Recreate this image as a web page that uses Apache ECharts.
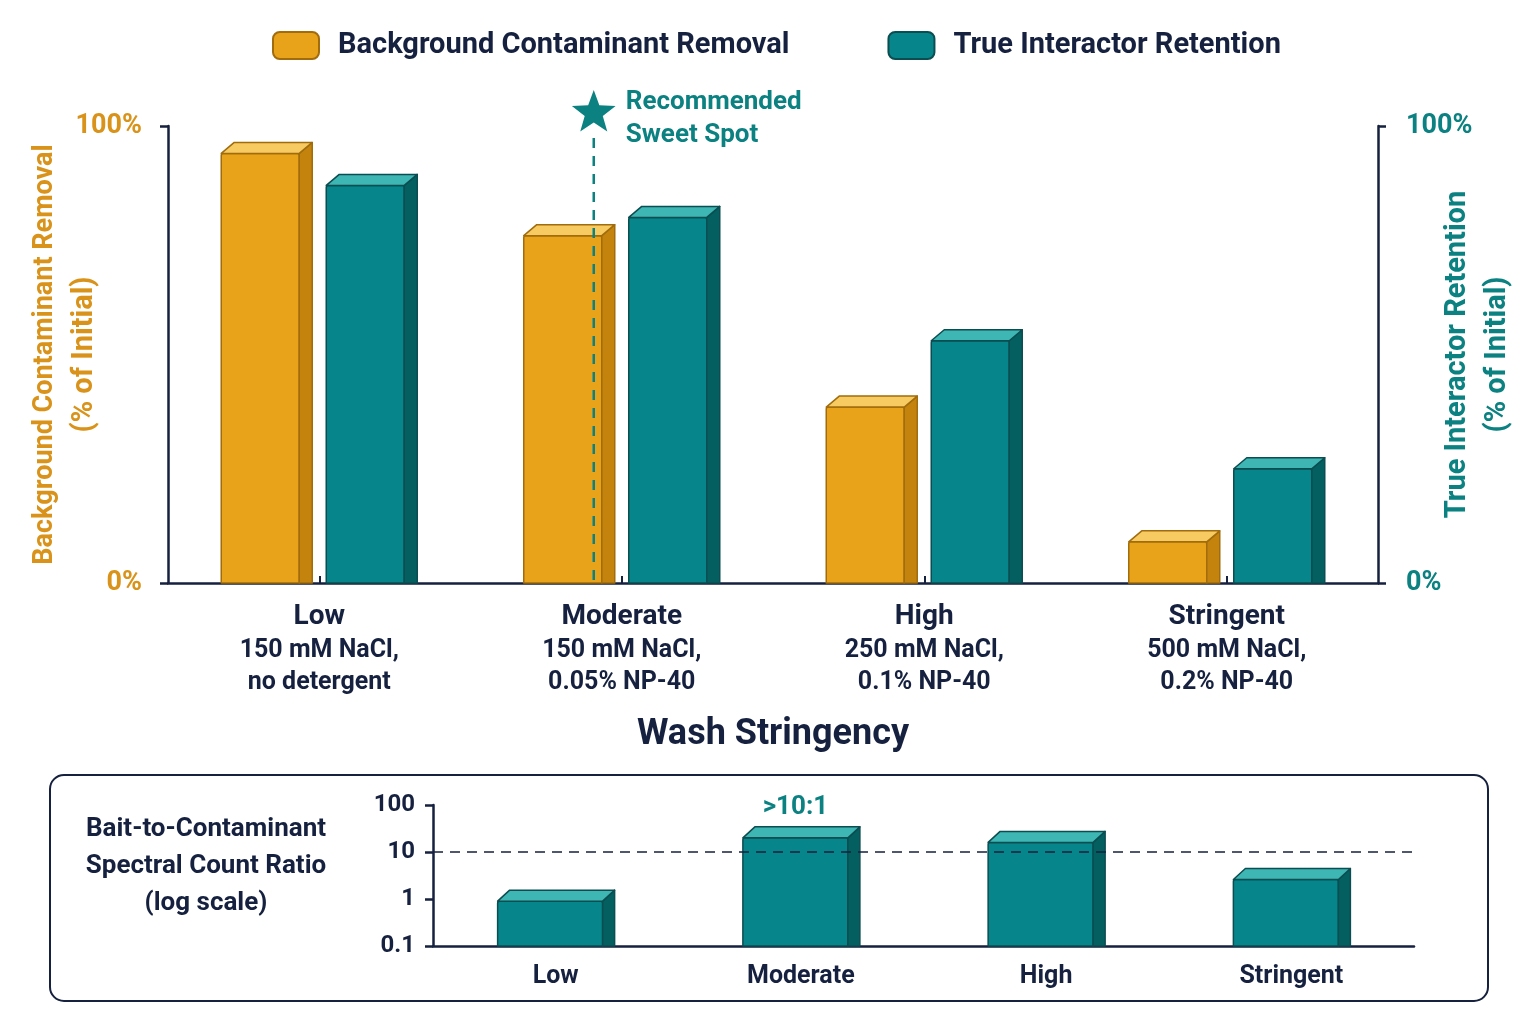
<!DOCTYPE html>
<html>
<head>
<meta charset="utf-8">
<script src="https://cdn.jsdelivr.net/npm/echarts@6/dist/echarts.min.js"></script>
<style>
  html, body { margin: 0; padding: 0; background: #fff; }
  #main { width: 1536px; height: 1024px; }
</style>
</head>
<body>
<div id="main"></div>
<script>
// wash levels and their buffer conditions
const washLevels = ['Low', 'Moderate', 'High', 'Stringent'];
const washConditions = [
  ['150 mM NaCl,', 'no detergent'],
  ['150 mM NaCl,', '0.05% NP-40'],
  ['250 mM NaCl,', '0.1% NP-40'],
  ['500 mM NaCl,', '0.2% NP-40']
];
// % of initial
const contaminantRemoval = [94, 76, 38.5, 9];
const interactorRetention = [87, 80, 53, 25];
// bait-to-contaminant spectral count ratio (log scale)
const spectralRatio = [0.9, 20, 16, 2.6];
const ratioLabels = ['', '>10:1', '', ''];
const ratioThreshold = 10;
const sweetSpot = 'Moderate';

const NAVY = '#15213f';
const ORANGE = '#d9931a';
const TEAL = '#0b8181';
const FONT = 'Roboto, "Noto Sans", sans-serif';

const orangeFaces = { front: '#e8a31a', top: '#f8cb62', side: '#c4830c', line: '#a06c0c' };
const tealFaces = { front: '#06868a', top: '#3db6b4', side: '#035f60', line: '#0b4d50' };

// 3D-looking bar: front face + top + right side
function bar3d(offset, faceW, dx, dy, baseVal, faces, labels) {
  return function (params, api) {
    const idx = api.value(0);
    const top = api.coord([idx, api.value(1)]);
    const base = api.coord([idx, baseVal]);
    const x0 = top[0] + offset;
    const ty = top[1];
    const by = base[1];
    const st = { stroke: faces.line, lineWidth: 1.5, lineJoin: 'round' };
    const children = [
      {
        type: 'rect',
        shape: { x: x0, y: ty, width: faceW, height: by - ty, r: [2, 2, 0, 0] },
        style: Object.assign({ fill: faces.front }, st)
      },
      {
        type: 'polygon',
        shape: { points: [[x0 + faceW, ty], [x0 + faceW + dx, ty - dy], [x0 + faceW + dx, by], [x0 + faceW, by]] },
        style: Object.assign({ fill: faces.side }, st)
      },
      {
        type: 'polygon',
        shape: { points: [[x0, ty], [x0 + dx, ty - dy], [x0 + faceW + dx, ty - dy], [x0 + faceW, ty]] },
        style: Object.assign({ fill: faces.top }, st)
      }
    ];
    if (labels && labels[params.dataIndex]) {
      children.push({
        type: 'text',
        style: {
          x: x0 + faceW / 2, y: ty - dy - 6,
          text: labels[params.dataIndex],
          fill: TEAL, font: 'bold 26px ' + FONT,
          textAlign: 'center', textVerticalAlign: 'bottom'
        }
      });
    }
    return { type: 'group', children: children };
  };
}

// five-pointed star outline around a centre
function starPoints(cx, cy, outer, inner) {
  const pts = [];
  for (let k = 0; k < 10; k++) {
    const r = k % 2 === 0 ? outer : inner;
    const a = -Math.PI / 2 + k * Math.PI / 5;
    pts.push([cx + r * Math.cos(a), cy + r * Math.sin(a)]);
  }
  return pts;
}

const chart = echarts.init(document.getElementById('main'));

chart.setOption({
  backgroundColor: '#ffffff',
  animation: false,
  textStyle: { fontFamily: FONT },
  legend: {
    top: 26,
    left: 267,
    itemWidth: 46,
    itemHeight: 27,
    itemGap: 98,
    icon: 'roundRect',
    textStyle: { color: NAVY, fontSize: 29, fontWeight: 'bold', padding: [0, 0, 0, 14] },
    data: ['Background Contaminant Removal', 'True Interactor Retention']
  },
  grid: [
    { left: 168, top: 126, width: 1210, height: 457, outerBoundsMode: 'none' },
    { left: 433, top: 805, width: 981, height: 141, outerBoundsMode: 'none' }
  ],
  xAxis: [
    {
      type: 'category', gridIndex: 0, data: washLevels,
      axisLine: { lineStyle: { color: NAVY, width: 2.5 } },
      axisTick: { show: true, inside: true, alignWithLabel: true, length: 7, lineStyle: { color: NAVY, width: 2 } },
      axisLabel: {
        margin: 16,
        formatter: function (v, i) {
          return '{a|' + v + '}\n{b|' + washConditions[i][0] + '}\n{b|' + washConditions[i][1] + '}';
        },
        rich: {
          a: { fontSize: 28, fontWeight: 'bold', color: NAVY, lineHeight: 36, fontFamily: FONT },
          b: { fontSize: 25, fontWeight: 'bold', color: NAVY, lineHeight: 32, fontFamily: FONT }
        }
      },
      name: 'Wash Stringency',
      nameLocation: 'middle',
      nameGap: 134,
      nameMoveOverlap: false,
      nameTextStyle: { fontSize: 36, fontWeight: 'bold', color: NAVY, fontFamily: FONT }
    },
    {
      type: 'category', gridIndex: 1, data: washLevels,
      axisLine: { lineStyle: { color: NAVY, width: 2.5 } },
      axisTick: { show: false },
      axisLabel: { margin: 18, fontSize: 25, fontWeight: 'bold', color: NAVY }
    }
  ],
  yAxis: [
    {
      type: 'value', gridIndex: 0, position: 'left', min: 0, max: 100, interval: 100,
      axisLine: { show: true, lineStyle: { color: NAVY, width: 2.5 } },
      axisTick: { show: true, length: 8, lineStyle: { color: NAVY, width: 2.5 } },
      axisLabel: { formatter: '{value}%', color: ORANGE, fontSize: 27, fontWeight: 'bold', margin: 26 },
      splitLine: { show: false },
      name: '{a|Background Contaminant Removal}\n{b|(% of Initial)}',
      nameLocation: 'middle',
      nameGap: 63,
      nameMoveOverlap: false,
      nameTextStyle: {
        color: ORANGE, fontWeight: 'bold', lineHeight: 40, fontFamily: FONT,
        rich: {
          a: { fontSize: 27, fontWeight: 'bold', color: ORANGE, lineHeight: 40, fontFamily: FONT },
          b: { fontSize: 29, fontWeight: 'bold', color: ORANGE, lineHeight: 40, fontFamily: FONT }
        }
      }
    },
    {
      type: 'value', gridIndex: 0, position: 'right', min: 0, max: 100, interval: 100,
      axisLine: { show: true, lineStyle: { color: NAVY, width: 2.5 } },
      axisTick: { show: true, length: 8, lineStyle: { color: NAVY, width: 2.5 } },
      axisLabel: { formatter: '{value}%', color: TEAL, fontSize: 27, fontWeight: 'bold', margin: 28 },
      splitLine: { show: false },
      name: '{a|True Interactor Retention}\n{b|(% of Initial)}',
      nameLocation: 'middle',
      nameRotate: 90,
      nameGap: 60,
      nameMoveOverlap: false,
      nameTextStyle: {
        color: TEAL, fontWeight: 'bold', lineHeight: 40, fontFamily: FONT,
        rich: {
          a: { fontSize: 29, fontWeight: 'bold', color: TEAL, lineHeight: 40, fontFamily: FONT },
          b: { fontSize: 29, fontWeight: 'bold', color: TEAL, lineHeight: 40, fontFamily: FONT }
        }
      }
    },
    {
      type: 'log', gridIndex: 1, logBase: 10, min: 0.1, max: 100,
      axisLine: { show: true, lineStyle: { color: NAVY, width: 2.5 } },
      axisTick: { show: true, length: 8, lineStyle: { color: NAVY, width: 2.5 } },
      minorTick: { show: false },
      axisLabel: { color: NAVY, fontSize: 24, fontWeight: 'bold', margin: 18 },
      splitLine: { show: false }
    }
  ],
  series: [
    {
      name: 'Background Contaminant Removal',
      type: 'custom',
      xAxisIndex: 0, yAxisIndex: 0,
      itemStyle: { color: orangeFaces.front, borderColor: orangeFaces.line, borderWidth: 1.5 },
      encode: { x: 0, y: 1 },
      data: contaminantRemoval.map(function (v, i) { return [i, v]; }),
      renderItem: bar3d(-98, 78, 13, 11, 0, orangeFaces)
    },
    {
      name: 'True Interactor Retention',
      type: 'custom',
      xAxisIndex: 0, yAxisIndex: 1,
      itemStyle: { color: tealFaces.front, borderColor: tealFaces.line, borderWidth: 1.5 },
      encode: { x: 0, y: 1 },
      data: interactorRetention.map(function (v, i) { return [i, v]; }),
      renderItem: bar3d(7, 78, 13, 11, 0, tealFaces)
    },
    {
      name: 'Spectral Count Ratio',
      type: 'custom',
      xAxisIndex: 1, yAxisIndex: 2,
      itemStyle: { color: tealFaces.front },
      encode: { x: 0, y: 1 },
      data: spectralRatio.map(function (v, i) { return [i, v]; }),
      renderItem: bar3d(-58, 105, 12, 11, 0.1, tealFaces, ratioLabels),
      markLine: {
        silent: true,
        symbol: 'none',
        label: { show: false },
        lineStyle: { color: NAVY, type: [10, 7], width: 1.5 },
        data: [{ yAxis: ratioThreshold }]
      }
    }
  ],
  graphic: [
    {
      id: 'panel',
      type: 'rect', z: -1,
      shape: { x: 50, y: 775, width: 1438, height: 226, r: 14 },
      style: { fill: 'none', stroke: NAVY, lineWidth: 2 }
    },
    {
      id: 'panelTitle',
      type: 'text',
      style: {
        x: 206, y: 866,
        text: 'Bait-to-Contaminant\nSpectral Count Ratio\n(log scale)',
        font: 'bold 26px ' + FONT, lineHeight: 37,
        fill: NAVY, textAlign: 'center', textVerticalAlign: 'middle'
      }
    }
  ]
});

// recommended sweet spot marker, placed from the axis scales
const spotX = chart.convertToPixel({ xAxisIndex: 0 }, sweetSpot) - 28;
const topY = chart.convertToPixel({ yAxisIndex: 0 }, 100);
const baseY = chart.convertToPixel({ yAxisIndex: 0 }, 0);
chart.setOption({
  graphic: [
    {
      id: 'spotLine',
      type: 'line', z: 50,
      shape: { x1: spotX, y1: topY + 12, x2: spotX, y2: baseY },
      style: { stroke: TEAL, lineWidth: 2.5, lineDash: [10, 8] }
    },
    {
      id: 'spotStar',
      type: 'polygon', z: 50,
      shape: { points: starPoints(spotX, topY - 13, 23, 9.5) },
      style: { fill: TEAL }
    },
    {
      id: 'spotText',
      type: 'text', z: 50,
      style: {
        x: spotX + 32, y: topY - 7,
        text: 'Recommended\nSweet Spot',
        font: 'bold 26px ' + FONT, lineHeight: 33,
        fill: TEAL, textAlign: 'left', textVerticalAlign: 'middle'
      }
    }
  ]
});
</script>
</body>
</html>
